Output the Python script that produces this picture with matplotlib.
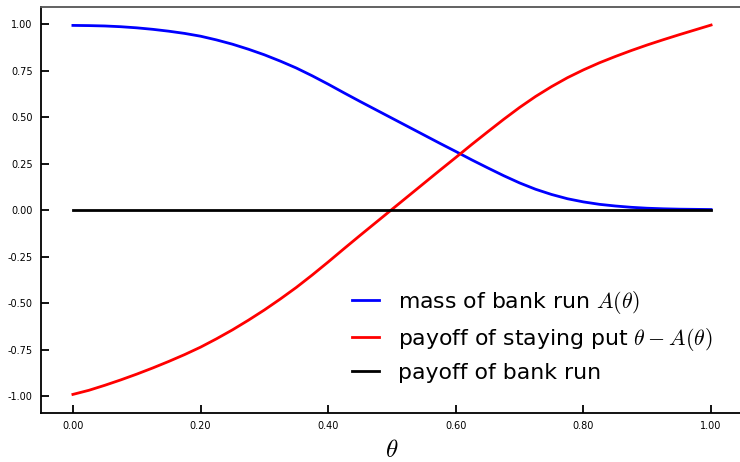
import matplotlib
matplotlib.use("Agg")
import matplotlib.pyplot as plt

plt.rcParams['mathtext.fontset'] = 'cm'
plt.rcParams['font.family'] = 'DejaVu Sans'

# values
theta = [0.000, 0.025, 0.050, 0.075, 0.100, 0.125, 0.150, 0.175, 0.200, 0.225,
         0.250, 0.275, 0.300, 0.325, 0.350, 0.375, 0.400, 0.425, 0.450, 0.475,
         0.500, 0.525, 0.550, 0.575, 0.600, 0.625, 0.650, 0.675, 0.700, 0.725,
         0.750, 0.775, 0.800, 0.825, 0.850, 0.875, 0.900, 0.925, 0.950, 0.975, 1.000]
mass_run = [0.994, 0.993, 0.991, 0.987, 0.981, 0.973, 0.963, 0.951, 0.936, 0.916,
            0.893, 0.866, 0.836, 0.802, 0.765, 0.723, 0.678, 0.631, 0.585, 0.540,
            0.495, 0.450, 0.405, 0.360, 0.316, 0.271, 0.228, 0.186, 0.147, 0.113,
            0.085, 0.062, 0.045, 0.032, 0.023, 0.016, 0.011, 0.008, 0.006, 0.005, 0.004]
payoff_stay = [-0.990, -0.968, -0.941, -0.912, -0.881, -0.848, -0.813, -0.776, -0.736, -0.691,
               -0.643, -0.591, -0.536, -0.477, -0.415, -0.348, -0.278, -0.206, -0.135, -0.065,
               0.005, 0.075, 0.145, 0.215, 0.284, 0.354, 0.422, 0.489, 0.553, 0.612,
               0.665, 0.713, 0.755, 0.793, 0.827, 0.859, 0.889, 0.917, 0.944, 0.970, 0.996]
payoff_run_x = [0.0, 1.0]
payoff_run = [0.0, 0.0]

xticks = [0.0, 0.2, 0.4, 0.6, 0.8, 1.0]
yticks = [-1.0, -0.75, -0.5, -0.25, 0.0, 0.25, 0.5, 0.75, 1.0]

fig = plt.figure(figsize=(7.4, 4.62), dpi=100)
ax = fig.add_axes([41 / 740, 1 - 413 / 462, 702 / 740, 406 / 462])

ax.plot(theta, mass_run, color='blue', lw=2, label=r'mass of bank run $A(\theta)$')
ax.plot(theta, payoff_stay, color='red', lw=2, label=r'payoff of staying put $\theta - A(\theta)$')
ax.plot(payoff_run_x, payoff_run, color='black', lw=2, label='payoff of bank run')

ax.set_xlim(-0.05, 1.05)
ax.set_ylim(-1.09, 1.093)
ax.set_xticks(xticks)
ax.set_yticks(yticks)
ax.set_xticklabels(['%.2f' % t for t in xticks])
ax.set_yticklabels(['%.2f' % t for t in yticks])
ax.tick_params(direction='in', length=6, width=1.3, labelsize=7, pad=6,
               top=False, right=False)
for s in ax.spines.values():
    s.set_linewidth(1.3)
ax.spines['top'].set_color('#555555')

ax.set_xlabel(r'$\theta$', fontsize=18, labelpad=5)
ax.legend(loc='lower right', frameon=False, fontsize=15.8,
          bbox_to_anchor=(0.985, 0.025), handlelength=1.26, handletextpad=0.86,
          labelspacing=0.46)

fig.savefig('out.png', dpi=100)
